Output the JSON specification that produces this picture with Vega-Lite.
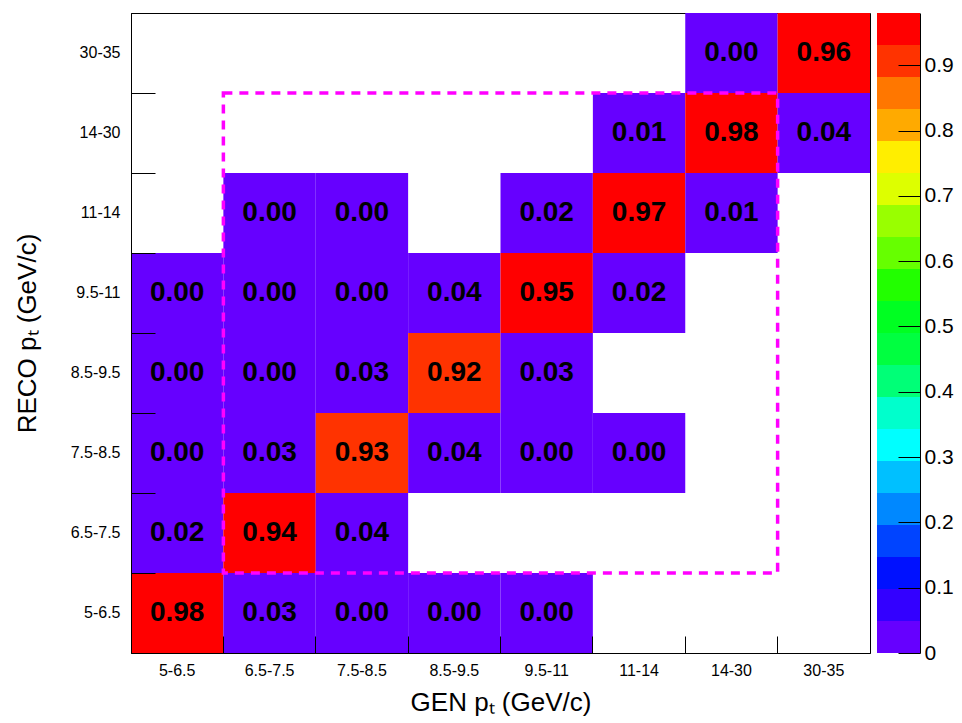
{
  "$schema": "https://vega.github.io/schema/vega-lite/v6.json",
  "background": "white",
  "padding": {"left": 13, "top": 12, "right": 0, "bottom": 0},
  "config": {"font": "Liberation Sans", "view": {"stroke": "#000", "strokeWidth": 1}, "concat": {"spacing": 6}},
  "datasets": {
    "cells": [
      {"gen": "14-30", "reco": "30-35", "v": 0.001},
      {"gen": "30-35", "reco": "30-35", "v": 0.96},
      {"gen": "11-14", "reco": "14-30", "v": 0.01},
      {"gen": "14-30", "reco": "14-30", "v": 0.98},
      {"gen": "30-35", "reco": "14-30", "v": 0.04},
      {"gen": "6.5-7.5", "reco": "11-14", "v": 0.001},
      {"gen": "7.5-8.5", "reco": "11-14", "v": 0.001},
      {"gen": "9.5-11", "reco": "11-14", "v": 0.02},
      {"gen": "11-14", "reco": "11-14", "v": 0.97},
      {"gen": "14-30", "reco": "11-14", "v": 0.01},
      {"gen": "5-6.5", "reco": "9.5-11", "v": 0.001},
      {"gen": "6.5-7.5", "reco": "9.5-11", "v": 0.001},
      {"gen": "7.5-8.5", "reco": "9.5-11", "v": 0.001},
      {"gen": "8.5-9.5", "reco": "9.5-11", "v": 0.04},
      {"gen": "9.5-11", "reco": "9.5-11", "v": 0.95},
      {"gen": "11-14", "reco": "9.5-11", "v": 0.02},
      {"gen": "5-6.5", "reco": "8.5-9.5", "v": 0.001},
      {"gen": "6.5-7.5", "reco": "8.5-9.5", "v": 0.001},
      {"gen": "7.5-8.5", "reco": "8.5-9.5", "v": 0.03},
      {"gen": "8.5-9.5", "reco": "8.5-9.5", "v": 0.92},
      {"gen": "9.5-11", "reco": "8.5-9.5", "v": 0.03},
      {"gen": "5-6.5", "reco": "7.5-8.5", "v": 0.001},
      {"gen": "6.5-7.5", "reco": "7.5-8.5", "v": 0.03},
      {"gen": "7.5-8.5", "reco": "7.5-8.5", "v": 0.928},
      {"gen": "8.5-9.5", "reco": "7.5-8.5", "v": 0.04},
      {"gen": "9.5-11", "reco": "7.5-8.5", "v": 0.001},
      {"gen": "11-14", "reco": "7.5-8.5", "v": 0.001},
      {"gen": "5-6.5", "reco": "6.5-7.5", "v": 0.02},
      {"gen": "6.5-7.5", "reco": "6.5-7.5", "v": 0.94},
      {"gen": "7.5-8.5", "reco": "6.5-7.5", "v": 0.04},
      {"gen": "5-6.5", "reco": "5-6.5", "v": 0.98},
      {"gen": "6.5-7.5", "reco": "5-6.5", "v": 0.03},
      {"gen": "7.5-8.5", "reco": "5-6.5", "v": 0.001},
      {"gen": "8.5-9.5", "reco": "5-6.5", "v": 0.001},
      {"gen": "9.5-11", "reco": "5-6.5", "v": 0.001}
    ],
    "bands": [
      {"lo": 0, "hi": 0.049, "mid": 0.0245},
      {"lo": 0.049, "hi": 0.098, "mid": 0.0735},
      {"lo": 0.098, "hi": 0.147, "mid": 0.1225},
      {"lo": 0.147, "hi": 0.196, "mid": 0.1715},
      {"lo": 0.196, "hi": 0.245, "mid": 0.2205},
      {"lo": 0.245, "hi": 0.294, "mid": 0.2695},
      {"lo": 0.294, "hi": 0.343, "mid": 0.3185},
      {"lo": 0.343, "hi": 0.392, "mid": 0.3675},
      {"lo": 0.392, "hi": 0.441, "mid": 0.4165},
      {"lo": 0.441, "hi": 0.49, "mid": 0.4655},
      {"lo": 0.49, "hi": 0.539, "mid": 0.5145},
      {"lo": 0.539, "hi": 0.588, "mid": 0.5635},
      {"lo": 0.588, "hi": 0.637, "mid": 0.6125},
      {"lo": 0.637, "hi": 0.686, "mid": 0.6615},
      {"lo": 0.686, "hi": 0.735, "mid": 0.7105},
      {"lo": 0.735, "hi": 0.784, "mid": 0.7595},
      {"lo": 0.784, "hi": 0.833, "mid": 0.8085},
      {"lo": 0.833, "hi": 0.882, "mid": 0.8575},
      {"lo": 0.882, "hi": 0.931, "mid": 0.9065},
      {"lo": 0.931, "hi": 0.98, "mid": 0.9555}
    ],
    "box": [{"x1": 1, "x2": 7, "y1": 1, "y2": 7}]
  },
  "hconcat": [
    {
      "width": 739,
      "height": 640,
      "layer": [
        {
          "data": {"name": "cells"},
          "layer": [
            {
              "mark": {"type": "rect", "strokeWidth": 0},
              "encoding": {
                "x": {
                  "field": "gen", "type": "nominal",
                  "scale": {"domain": ["5-6.5", "6.5-7.5", "7.5-8.5", "8.5-9.5", "9.5-11", "11-14", "14-30", "30-35"], "paddingInner": 0, "paddingOuter": 0},
                  "axis": {"title": "GEN pₜ (GeV/c)", "orient": "bottom", "bandPosition": 0, "tickSize": -17, "tickColor": "black", "tickWidth": 1, "labelPadding": 26, "labelFontSize": 16, "labelColor": "black", "labelAngle": 0, "labelFont": "Liberation Sans", "domainColor": "black", "domainWidth": 1, "titleFont": "Liberation Sans", "titleFontSize": 26, "titleFontWeight": "normal", "titleColor": "black", "titlePadding": 11, "zindex": 1, "grid": false}
                },
                "y": {
                  "field": "reco", "type": "nominal",
                  "scale": {"domain": ["30-35", "14-30", "11-14", "9.5-11", "8.5-9.5", "7.5-8.5", "6.5-7.5", "5-6.5"], "paddingInner": 0, "paddingOuter": 0},
                  "axis": {"title": "RECO pₜ (GeV/c)", "orient": "left", "bandPosition": 0, "tickSize": -24, "tickColor": "black", "tickWidth": 1, "labelPadding": 35, "labelFontSize": 16, "labelColor": "black", "labelFont": "Liberation Sans", "domainColor": "black", "domainWidth": 1, "titleFont": "Liberation Sans", "titleFontSize": 26, "titleFontWeight": "normal", "titleColor": "black", "titlePadding": 30, "zindex": 1, "grid": false}
                },
                "color": {
                  "field": "v", "type": "quantitative",
                  "scale": {"type": "quantize", "domain": [0, 0.98], "range": ["#6600ff", "#3300ff", "#0011ff", "#0044ff", "#0088ff", "#00c0ff", "#00ffff", "#00ffcc", "#00ff77", "#00ff40", "#00ff22", "#22ff00", "#66ff00", "#99ff00", "#ddff00", "#ffee00", "#ffaa00", "#ff7700", "#ff3300", "#ff0000"]},
                  "legend": null
                }
              }
            },
            {
              "mark": {"type": "text", "font": "Liberation Sans", "fontWeight": "bold", "fontSize": 28, "color": "black"},
              "encoding": {
                "x": {"field": "gen", "type": "nominal"},
                "y": {"field": "reco", "type": "nominal"},
                "text": {"field": "v", "type": "quantitative", "format": ".2f"}
              }
            }
          ]
        },
        {
          "data": {"name": "box"},
          "mark": {"type": "rect", "fillOpacity": 0, "stroke": "#ff00ff", "strokeWidth": 3.5, "strokeDash": [9, 7]},
          "encoding": {
            "x": {"field": "x1", "type": "quantitative", "scale": {"domain": [0, 8], "nice": false, "zero": false}, "axis": null},
            "x2": {"field": "x2"},
            "y": {"field": "y1", "type": "quantitative", "scale": {"domain": [0, 8], "nice": false, "zero": false}, "axis": null},
            "y2": {"field": "y2"}
          }
        }
      ],
      "resolve": {"scale": {"x": "independent", "y": "independent"}, "axis": {"x": "independent", "y": "independent"}}
    },
    {
      "width": 43,
      "height": 640,
      "view": {"stroke": null},
      "data": {"name": "bands"},
      "mark": {"type": "rect", "strokeWidth": 0},
      "encoding": {
        "y": {
          "field": "lo", "type": "quantitative",
          "scale": {"domain": [0, 0.98], "nice": false, "zero": false},
          "axis": {"orient": "right", "values": [0, 0.1, 0.2, 0.3, 0.4, 0.5, 0.6, 0.7, 0.8, 0.9], "format": "~g", "tickSize": -22, "tickColor": "black", "labelPadding": 26, "labelFontSize": 21, "labelColor": "black", "labelFont": "Liberation Sans", "domainColor": "black", "title": null, "grid": false, "zindex": 1}
        },
        "y2": {"field": "hi"},
        "color": {
          "field": "mid", "type": "quantitative",
          "scale": {"type": "quantize", "domain": [0, 0.98], "range": ["#6600ff", "#3300ff", "#0011ff", "#0044ff", "#0088ff", "#00c0ff", "#00ffff", "#00ffcc", "#00ff77", "#00ff40", "#00ff22", "#22ff00", "#66ff00", "#99ff00", "#ddff00", "#ffee00", "#ffaa00", "#ff7700", "#ff3300", "#ff0000"]},
          "legend": null
        }
      }
    }
  ]
}
